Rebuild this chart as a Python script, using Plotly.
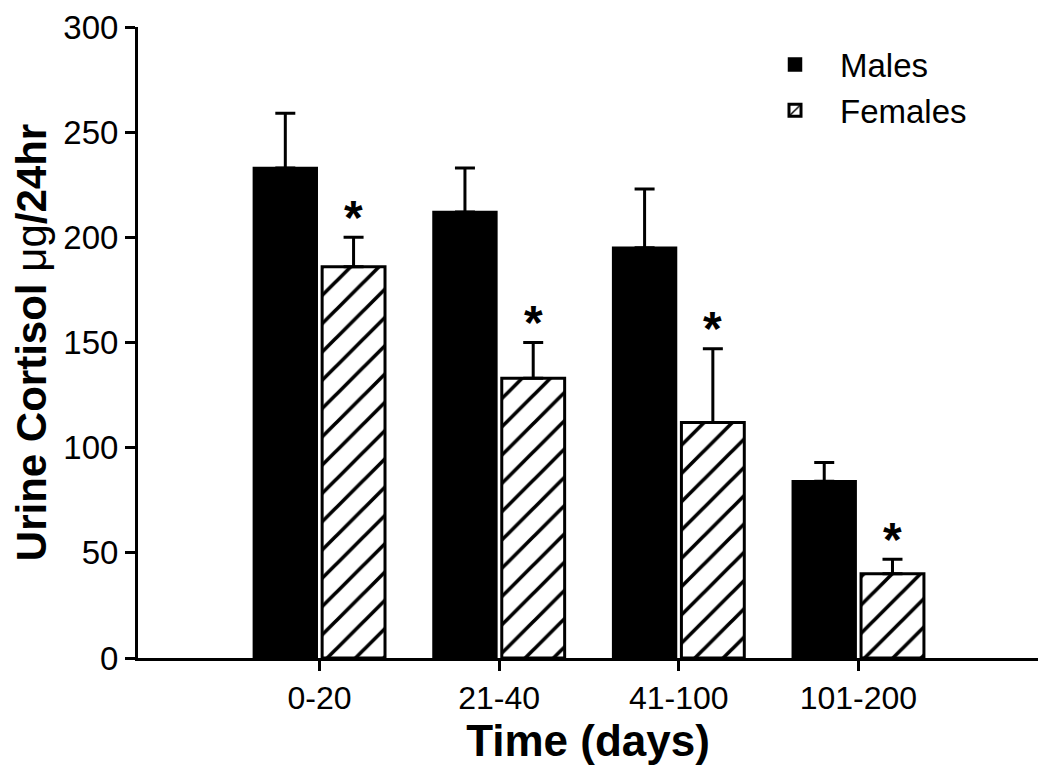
import plotly.graph_objects as go

categories = ["0-20", "21-40", "41-100", "101-200"]
males = [233, 212, 195, 84]
males_err = [26, 21, 28, 9]
females = [186, 133, 112, 40]
females_err = [14, 17, 35, 7]
significant = [True, True, True, True]
y_ticks = [0, 50, 100, 150, 200, 250, 300]

FONT = "Arial, Liberation Sans, sans-serif"
idx = list(range(len(categories)))
off = 0.19
bw = 0.35

fig = go.Figure()
fig.add_trace(go.Bar(
    name="Males", x=[i - off for i in idx], y=males, width=bw,
    marker=dict(color="black", line=dict(color="black", width=2.5)),
    error_y=dict(type="data", array=males_err, arrayminus=[0]*4, symmetric=False,
                 color="black", thickness=3, width=10),
))
fig.add_trace(go.Bar(
    name="Females", x=[i + off for i in idx], y=females, width=bw,
    marker=dict(color="white", line=dict(color="black", width=3),
                pattern=dict(shape="/", fgcolor="#000000", fgopacity=1, bgcolor="white",
                             size=20, solidity=0.18)),
    error_y=dict(type="data", array=females_err, arrayminus=[0]*4, symmetric=False,
                 color="black", thickness=3, width=10),
))

for i, (v, e, s) in enumerate(zip(females, females_err, significant)):
    if s:
        fig.add_annotation(x=i + off, y=v + e, text="<b>*</b>", showarrow=False,
                           yanchor="middle", yshift=20,
                           font=dict(family=FONT, size=48, color="black"))

fig.update_layout(
    width=1050, height=777,
    margin=dict(l=130, r=20, t=19, b=127, autoexpand=False),
    paper_bgcolor="white", plot_bgcolor="white",
    barmode="overlay",
    font=dict(family=FONT, color="black", size=33),
    showlegend=True,
    legend=dict(x=0.68, y=0.985, xanchor="left", yanchor="top",
                font=dict(family=FONT, size=33, color="black"),
                bgcolor="rgba(0,0,0,0)", itemwidth=80, tracegroupgap=0),
    xaxis=dict(range=[-1.01, 4.0], tickvals=idx, ticktext=categories,
               automargin=False,
               showline=True, linecolor="black", linewidth=3,
               ticks="outside", ticklen=10, tickwidth=3, tickcolor="black",
               showgrid=False, zeroline=False,
               tickfont=dict(family=FONT, size=32, color="black"),
               title=dict(text="<b>Time (days)</b>", font=dict(family=FONT, size=44, color="black"), standoff=4)),
    yaxis=dict(range=[0, 300], tickvals=y_ticks,
               automargin=False,
               showline=True, linecolor="black", linewidth=3,
               ticks="outside", ticklen=10, tickwidth=3, tickcolor="black",
               showgrid=False, zeroline=False,
               tickfont=dict(family=FONT, size=33, color="black"),
               title=dict(text="<b>Urine Cortisol </b>μg<b>/24hr</b>",
                          font=dict(family=FONT, size=42, color="black"), standoff=12)),
)

fig.write_html("out.html")
